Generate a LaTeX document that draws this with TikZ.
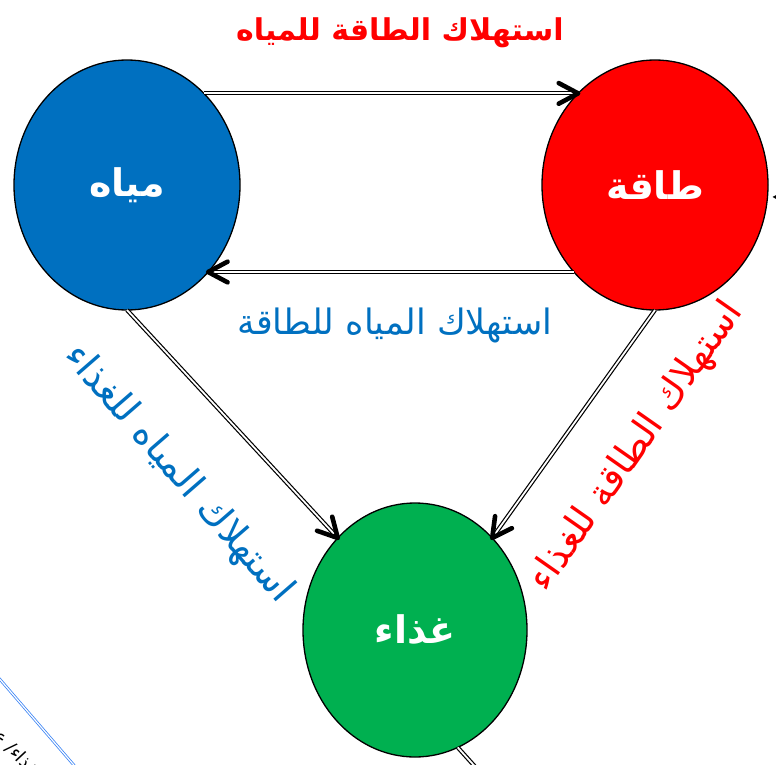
\documentclass[tikz,border=0pt]{standalone}
\usepackage{fontspec}
\usetikzlibrary{shapes.geometric,arrows.meta,calc}
\TeXXeTstate=1
\newfontfamily\arabicfont[Script=Arabic]{DejaVu Sans}
\definecolor{wblue}{HTML}{0070C0}
\definecolor{ered}{HTML}{FF0000}
\definecolor{fgreen}{HTML}{00B050}
\definecolor{lblue}{HTML}{3D85F5}
\begin{document}
\begin{tikzpicture}[x=1pt,y=-1pt,
  res/.style={ellipse, draw=black, line width=1.3pt, inner sep=0pt, outer sep=0pt,
    minimum width=226pt, minimum height=250pt, text=white,
    font=\arabicfont\bfseries\fontsize{38}{44}\selectfont},
  dbl/.style={draw=black, double=white, double distance=1.8pt, line width=1.2pt, shorten >=2pt},
  chev/.style={draw=black, line width=4.6pt, line cap=round, line join=round},
  lblb/.style={font=\arabicfont\bfseries\fontsize{30}{34}\selectfont, inner sep=0pt},
  lbl/.style={font=\arabicfont\fontsize{35}{38}\selectfont, inner sep=0pt},
  lbld/.style={font=\arabicfont\fontsize{38}{42}\selectfont, inner sep=0pt}]

\useasboundingbox (0,0) rectangle (776,765);
\clip (0,0) rectangle (776,765);

\node[res, fill=wblue] (w) at (127,185) {\beginR مياه\endR};
\node[res, fill=ered] (e) at (655,185) {\beginR طاقة\endR};
\node[res, fill=fgreen, minimum height=254pt, minimum width=224pt] (f) at (415,630) {\beginR غذاء\endR};

% water -> energy (top)
\draw[dbl] (w.50) -- (e.130);
\draw[chev] ($(e.130)!22pt!28:(w.50)$) -- (e.130) -- ($(e.130)!22pt!-28:(w.50)$);
% energy -> water (bottom)
\draw[dbl] (e.-133) -- (w.-47);
\draw[chev] ($(w.-47)!22pt!28:(e.-133)$) -- (w.-47) -- ($(w.-47)!22pt!-28:(e.-133)$);
% water -> food
\draw[dbl] (w.-90) -- (f.130);
\draw[chev] ($(f.130)!22pt!28:(w.-90)$) -- (f.130) -- ($(f.130)!22pt!-28:(w.-90)$);
% energy -> food
\draw[dbl] (e.-90) -- (f.50);
\draw[chev] ($(f.50)!22pt!28:(e.-90)$) -- (f.50) -- ($(f.50)!22pt!-28:(e.-90)$);
% food -> out of frame
\coordinate (bx) at (488,781);
\draw[draw=black, double=white, double distance=1.8pt, line width=1.2pt] (f.-70) -- (bx);
% arrow from the right edge
\coordinate (rx) at (820,198);
\draw[line width=0.8pt, -{Triangle[length=5pt,width=5pt]}, shorten >=5pt] (rx) -- (e.-6);
% partial blue connector bottom-left
\coordinate (b1) at (-15,662);
\coordinate (b2) at (85,778);
\draw[draw=lblue, double=white, double distance=1.2pt, line width=0.8pt] (b1) -- (b2);
\node[font=\arabicfont\fontsize{18}{21}\selectfont, rotate=-47, anchor=west, inner sep=0pt] (bt) at (-3,734) {\beginR غذاء/ ع\endR};

% labels
\node[lblb, text=ered] (t1) at (400,33) {\beginR استهلاك الطاقة للمياه\endR};
\node[lbl, text=wblue] (t2) at (395,325) {\beginR استهلاك المياه للطاقة\endR};
\node[lbld, text=wblue, rotate=-49] (t3) at (178,474) {\beginR استهلاك المياه للغذاء\endR};
\node[lbld, text=ered, rotate=55] (t4) at (637,447) {\beginR استهلاك الطاقة للغذاء\endR};
\end{tikzpicture}
\end{document}
